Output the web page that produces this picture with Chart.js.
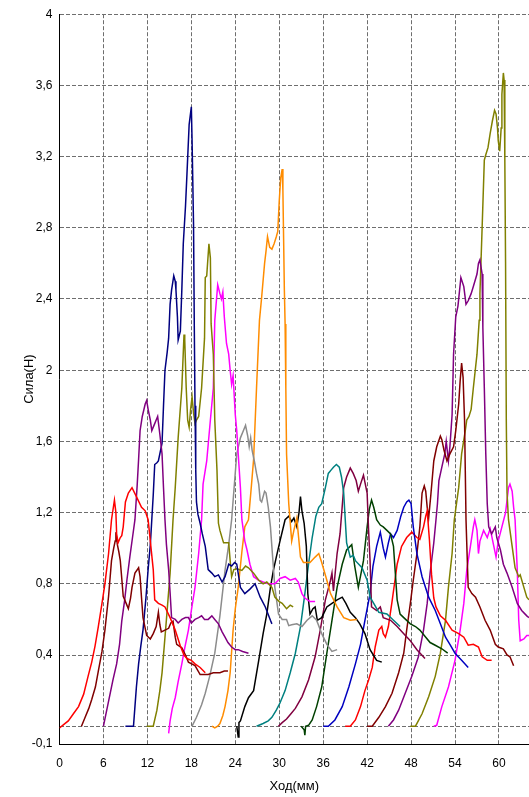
<!DOCTYPE html>
<html>
<head>
<meta charset="utf-8">
<script src="https://cdn.jsdelivr.net/npm/chart.js@4.4.1/dist/chart.umd.min.js"></script>
<style>
  html, body { margin: 0; padding: 0; background: #fff; overflow: hidden; }
  #wrap { width: 529px; height: 797px; position: relative; }
</style>
</head>
<body>
<div id="wrap"><canvas id="chart"></canvas></div>
<script>
// Force vs stroke, one trace per pass; each pass starts 3 mm after the previous one.
// Points are [stroke mm, force N].
const pass01 = [[0,-0.01],[0.6,0.01],[1.2,0.03],[1.9,0.07],[2.6,0.11],[3.3,0.18],[3.9,0.28],[4.4,0.36],[4.85,0.45],[5.3,0.56],[5.8,0.69],[6.2,0.8],[6.7,0.97],[7.1,1.16],[7.5,1.27],[7.7,1.2],[7.8,1.08],[8.0,1.03],[8.3,1.06],[8.5,1.07],[8.7,1.12],[9.0,1.26],[9.4,1.31],[9.9,1.34],[10.5,1.29],[11.2,1.23],[11.7,1.21],[12.1,1.16],[12.4,1.04],[12.8,0.88],[13.0,0.71],[13.5,0.69],[14.0,0.68],[14.4,0.67],[15.1,0.61],[15.8,0.54],[16.5,0.45],[17.0,0.4],[17.4,0.38],[18.0,0.37],[18.5,0.35],[19.2,0.33],[19.9,0.3]];
const pass02 = [[3.0,0],[3.5,0.05],[4.0,0.1],[4.4,0.15],[4.9,0.22],[5.3,0.31],[5.8,0.42],[6.2,0.54],[6.7,0.73],[7.1,0.93],[7.4,1.0],[7.6,1.04],[7.7,1.09],[7.9,1.02],[8.1,0.98],[8.3,0.93],[8.7,0.73],[8.9,0.71],[9.2,0.68],[9.4,0.66],[9.7,0.72],[9.9,0.78],[10.3,0.86],[10.8,0.89],[11.0,0.84],[11.2,0.72],[11.4,0.61],[11.9,0.51],[12.4,0.49],[12.8,0.52],[13.2,0.56],[13.5,0.64],[13.7,0.57],[13.9,0.53],[14.4,0.54],[14.9,0.55],[15.2,0.58],[15.5,0.59],[15.8,0.5],[16.0,0.46],[16.7,0.44],[17.2,0.4],[17.6,0.36],[18.5,0.34],[19.2,0.29],[19.8,0.29],[20.3,0.29],[21.0,0.3],[21.9,0.3],[22.5,0.31],[23.0,0.31]];
const pass03 = [[6.0,0],[6.4,0.08],[6.9,0.18],[7.3,0.26],[7.8,0.35],[8.2,0.46],[8.5,0.59],[8.9,0.71],[9.2,0.82],[9.6,0.95],[10.0,1.07],[10.3,1.16],[10.6,1.35],[10.8,1.5],[11.0,1.66],[11.3,1.74],[11.7,1.81],[11.9,1.83],[12.1,1.78],[12.4,1.72],[12.6,1.66],[12.8,1.68],[13.0,1.7],[13.2,1.72],[13.4,1.74],[13.7,1.64],[14.0,1.53],[14.2,1.34],[14.4,1.16],[14.6,1.02],[14.9,0.88],[15.1,0.75],[15.3,0.61],[15.8,0.6],[16.2,0.58],[16.7,0.6],[17.2,0.61],[17.6,0.61],[18.0,0.58],[18.5,0.6],[19.0,0.61],[19.4,0.62],[19.8,0.6],[20.3,0.6],[20.8,0.62],[21.2,0.6],[21.7,0.575],[22.2,0.53],[22.6,0.5],[23.0,0.47],[23.5,0.445],[24.0,0.43],[24.4,0.43],[25.0,0.42],[25.8,0.41]];
const pass04 = [[9.0,0],[9.5,0],[10.1,0],[10.3,0.11],[10.5,0.22],[10.8,0.35],[11.1,0.45],[11.4,0.54],[11.8,0.72],[12.1,0.88],[12.4,1.02],[12.6,1.16],[12.8,1.3],[13.0,1.47],[13.3,1.48],[13.5,1.49],[14.0,1.59],[14.2,1.8],[14.4,2.0],[14.7,2.1],[14.9,2.18],[15.1,2.37],[15.3,2.45],[15.6,2.53],[15.8,2.5],[15.9,2.45],[16.1,2.3],[16.2,2.17],[16.5,2.22],[16.7,2.45],[16.9,2.71],[17.2,2.92],[17.4,3.1],[17.7,3.38],[18.0,3.48],[18.1,3.29],[18.3,2.82],[18.4,2.26],[18.5,1.8],[18.6,1.44],[18.7,1.26],[18.9,1.19],[19.2,1.14],[19.5,1.08],[19.9,1.01],[20.3,0.88],[20.8,0.86],[21.2,0.84],[21.7,0.85],[22.2,0.81],[22.6,0.84],[23.1,0.91],[23.5,0.9],[23.9,0.92],[24.2,0.91],[24.7,0.78],[25.3,0.745],[26.0,0.77],[26.7,0.8],[27.4,0.725],[28.1,0.67],[28.8,0.595],[29.0,0.575]];
const pass05 = [[11.9,0],[12.4,0],[12.8,0],[13.3,0.09],[13.7,0.2],[14.0,0.3],[14.3,0.45],[14.6,0.6],[15.1,0.86],[15.5,1.16],[15.8,1.34],[16.2,1.62],[16.7,1.9],[17.0,2.2],[17.1,2.17],[17.3,1.9],[17.5,1.72],[17.7,1.68],[17.9,1.78],[18.1,1.85],[18.3,1.76],[18.5,1.7],[18.7,1.72],[19.0,1.74],[19.4,1.9],[19.8,2.18],[19.9,2.52],[20.1,2.53],[20.4,2.71],[20.6,2.63],[20.7,2.26],[21.0,2.09],[21.2,1.72],[21.5,1.44],[21.7,1.14],[21.9,1.1],[22.4,1.03],[23.1,1.03],[23.3,0.93],[23.5,0.84],[23.8,0.88],[24.2,0.885],[24.9,0.875],[25.4,0.9],[25.8,0.89],[26.5,0.86],[27.2,0.82],[27.8,0.8],[28.3,0.81],[29.0,0.78],[29.4,0.725],[30.0,0.7],[30.4,0.69],[31.0,0.66],[31.5,0.68],[31.9,0.67]];
const pass06 = [[14.9,-0.04],[15.1,0.03],[15.4,0.1],[15.8,0.16],[16.2,0.25],[16.7,0.35],[17.1,0.44],[17.6,0.54],[18.0,0.65],[18.5,0.78],[19.0,0.97],[19.4,1.16],[19.6,1.36],[20.1,1.49],[20.6,1.72],[21.0,1.9],[21.2,2.28],[21.6,2.48],[21.9,2.43],[22.1,2.4],[22.3,2.44],[22.5,2.3],[22.8,2.15],[23.1,2.09],[23.3,2.0],[23.5,1.92],[23.7,1.97],[24.0,1.75],[24.2,1.66],[24.4,1.53],[24.7,1.34],[24.9,1.16],[25.3,1.04],[25.6,0.99],[26.0,0.91],[26.5,0.84],[27.2,0.82],[27.8,0.81],[28.5,0.8],[29.4,0.8],[30.1,0.83],[30.8,0.84],[31.5,0.82],[32.2,0.83],[32.6,0.81],[33.1,0.745],[33.5,0.72],[34.2,0.7],[34.9,0.7]];
const pass07 = [[18.1,0],[18.7,0.05],[19.4,0.12],[19.9,0.185],[20.5,0.28],[21.2,0.41],[21.9,0.62],[22.6,0.875],[23.1,1.02],[23.5,1.16],[24.2,1.53],[24.7,1.62],[25.1,1.66],[25.4,1.69],[25.7,1.63],[25.9,1.57],[26.1,1.62],[26.3,1.55],[26.6,1.49],[26.9,1.42],[27.2,1.36],[27.4,1.27],[27.6,1.26],[28.0,1.32],[28.2,1.31],[28.5,1.23],[28.8,1.12],[29.1,0.95],[29.4,0.78],[29.9,0.63],[30.4,0.6],[31.0,0.6],[31.3,0.565],[31.7,0.57],[32.4,0.575],[33.1,0.56],[33.8,0.595],[34.5,0.62],[35.1,0.595],[35.8,0.52],[36.5,0.46],[37.2,0.42],[37.9,0.43]];
const pass08 = [[20.8,0],[21.2,-0.01],[21.6,0.0],[21.9,0.015],[22.3,0.06],[22.6,0.11],[23.0,0.2],[23.3,0.3],[23.7,0.54],[24.0,0.66],[24.4,0.78],[24.9,0.98],[25.3,1.12],[25.8,1.16],[26.2,1.35],[26.5,1.5],[26.9,1.9],[27.3,2.28],[27.6,2.41],[28.0,2.6],[28.2,2.67],[28.4,2.75],[28.7,2.69],[29.0,2.68],[29.3,2.71],[29.6,2.75],[29.8,2.78],[30.0,2.95],[30.2,3.08],[30.4,3.13],[30.5,3.01],[30.6,2.73],[30.7,2.45],[30.8,2.26],[30.9,1.9],[31.0,1.53],[31.3,1.25],[31.7,1.04],[32.0,1.1],[32.4,1.17],[32.6,1.08],[32.9,0.95],[33.3,0.92],[34.2,0.92],[34.9,0.95],[35.4,0.97],[35.8,0.92],[36.5,0.82],[37.0,0.745],[37.9,0.67],[38.8,0.61],[39.7,0.595],[40.6,0.6]];
const pass09 = [[24.2,0],[24.4,-0.06],[24.5,0.02],[24.7,0.03],[25.3,0.11],[25.8,0.16],[26.5,0.2],[27.2,0.37],[27.8,0.52],[28.3,0.63],[28.8,0.78],[29.2,0.875],[29.6,0.95],[30.1,1.04],[30.8,1.16],[31.3,1.18],[31.7,1.15],[32.0,1.17],[32.4,1.12],[32.7,1.2],[32.9,1.29],[33.1,1.21],[33.4,1.14],[33.7,1.01],[33.9,0.745],[34.2,0.63],[34.6,0.66],[34.9,0.67],[35.2,0.595],[35.8,0.61],[36.5,0.67],[37.2,0.69],[37.9,0.71],[38.6,0.725],[39.1,0.69],[39.7,0.64],[40.4,0.61],[41.0,0.575],[41.7,0.52],[42.4,0.43],[43.3,0.37],[44.0,0.36]];
const pass10 = [[26.9,0],[27.8,0.015],[28.5,0.03],[29.0,0.05],[29.6,0.09],[30.1,0.13],[30.8,0.2],[31.5,0.3],[32.2,0.41],[32.9,0.56],[33.5,0.745],[34.0,0.91],[34.5,1.06],[35.0,1.18],[35.4,1.23],[35.8,1.25],[36.3,1.34],[36.7,1.42],[37.1,1.44],[37.4,1.455],[37.8,1.47],[38.2,1.455],[38.5,1.4],[38.8,1.31],[39.2,1.03],[39.7,0.95],[40.1,0.96],[40.4,0.93],[41.3,0.89],[42.0,0.82],[42.4,0.725],[42.9,0.69],[43.6,0.64],[44.7,0.63],[45.6,0.595],[46.5,0.56]];
const pass11 = [[29.9,0],[30.4,0.02],[31.0,0.04],[31.6,0.07],[32.2,0.1],[33.1,0.165],[34.0,0.26],[34.9,0.39],[35.6,0.54],[36.3,0.71],[37.0,0.82],[37.2,0.86],[37.4,0.76],[37.9,0.97],[38.3,1.08],[38.8,1.34],[39.2,1.4],[39.7,1.45],[40.1,1.42],[40.5,1.38],[40.8,1.32],[41.1,1.36],[41.5,1.41],[42.0,1.31],[42.2,1.1],[42.4,0.93],[42.6,0.67],[43.3,0.65],[43.8,0.67],[44.2,0.61],[45.2,0.595],[46.1,0.56],[47.0,0.52],[47.9,0.48],[48.8,0.43],[49.9,0.38]];
const pass12 = [[33.0,0],[33.4,-0.02],[33.5,-0.05],[33.6,0.0],[34.0,0.005],[34.5,0.035],[35.1,0.11],[35.8,0.22],[36.5,0.41],[37.2,0.595],[37.9,0.78],[38.6,0.91],[39.2,0.99],[39.9,1.02],[40.3,0.9],[40.8,0.78],[41.5,0.93],[42.0,1.12],[42.3,1.22],[42.6,1.27],[42.9,1.23],[43.3,1.16],[43.8,1.13],[44.2,1.12],[44.7,1.1],[45.2,1.08],[45.6,1.01],[46.1,0.71],[46.5,0.63],[47.0,0.61],[47.9,0.575],[48.6,0.56],[49.2,0.54],[50.0,0.5],[50.6,0.47],[51.3,0.455],[52.2,0.435],[53.0,0.41]];
const pass13 = [[36.0,0],[36.7,0],[37.6,0.035],[38.6,0.11],[39.5,0.22],[40.4,0.35],[41.1,0.46],[41.7,0.595],[42.4,0.745],[42.8,0.9],[43.3,1.01],[43.8,1.09],[44.2,1.0],[44.5,0.95],[44.9,1.03],[45.2,1.08],[45.6,1.06],[46.1,1.1],[46.6,1.18],[47.0,1.23],[47.4,1.26],[47.7,1.27],[48.0,1.25],[48.3,1.12],[48.8,0.97],[49.5,0.84],[50.4,0.725],[51.3,0.65],[52.0,0.575],[52.7,0.5],[53.3,0.46],[54.0,0.41],[54.9,0.37],[55.8,0.33]];
const pass14 = [[39.0,0],[39.7,0],[40.4,0.035],[41.1,0.11],[41.7,0.2],[42.2,0.26],[42.7,0.33],[43.1,0.445],[43.6,0.54],[44.0,0.56],[44.2,0.52],[44.5,0.5],[44.9,0.56],[45.4,0.7],[45.8,0.82],[46.1,0.91],[46.7,1.01],[47.4,1.06],[48.1,1.09],[48.8,1.06],[49.2,1.05],[49.7,1.12],[50.0,1.18],[50.2,1.21],[50.5,1.05],[50.8,0.85],[51.1,0.72],[51.4,0.67],[52.0,0.62],[52.7,0.595],[53.6,0.54],[54.5,0.52],[55.2,0.5],[55.8,0.455],[56.5,0.46],[57.2,0.445],[57.7,0.39],[58.4,0.37],[59.0,0.37]];
const pass15 = [[42.0,0],[42.7,0],[43.6,0.05],[44.5,0.11],[45.4,0.185],[46.3,0.3],[47.0,0.41],[47.4,0.54],[47.9,0.69],[48.3,0.82],[48.8,0.97],[49.2,1.12],[49.5,1.31],[49.8,1.35],[50.0,1.32],[50.2,1.23],[50.4,1.17],[50.7,1.3],[51.1,1.49],[51.5,1.57],[52.0,1.63],[52.2,1.61],[52.5,1.55],[52.9,1.49],[53.3,1.53],[53.8,1.57],[54.1,1.66],[54.5,1.81],[54.7,1.94],[54.9,2.04],[55.1,1.96],[55.3,1.72],[55.4,1.44],[55.5,1.16],[55.7,0.9],[55.8,0.78],[56.3,0.745],[56.8,0.725],[57.4,0.67],[58.1,0.595],[58.8,0.54],[59.5,0.46],[59.9,0.445],[60.6,0.435],[61.1,0.4],[61.5,0.39],[62.0,0.34]];
const pass16 = [[44.9,0],[45.6,0.035],[46.3,0.09],[47.2,0.185],[48.1,0.28],[49.0,0.39],[49.7,0.54],[50.2,0.69],[50.6,0.86],[51.1,1.03],[51.4,1.16],[51.6,1.25],[51.8,1.38],[52.2,1.455],[52.6,1.53],[52.8,1.6],[53.1,1.49],[53.3,1.57],[53.6,1.75],[53.8,2.09],[54.1,2.3],[54.4,2.36],[54.8,2.52],[55.2,2.47],[55.5,2.37],[55.8,2.39],[56.2,2.43],[56.5,2.47],[57.0,2.54],[57.2,2.6],[57.4,2.62],[57.7,2.54],[57.8,2.24],[58.0,1.9],[58.2,1.53],[58.4,1.25],[58.6,1.12],[59.0,1.08],[59.5,1.12],[59.7,1.06],[60.2,0.99],[60.6,0.91],[61.1,0.86],[61.8,0.78],[62.5,0.69],[63.1,0.65],[63.8,0.62],[64.1,0.61]];
const pass17 = [[47.9,0],[48.6,0],[49.5,0.07],[50.4,0.165],[51.3,0.28],[52.0,0.41],[52.7,0.595],[53.1,0.78],[53.6,0.97],[53.9,1.16],[54.5,1.34],[54.9,1.53],[55.4,1.66],[55.6,1.72],[55.9,1.74],[56.2,1.78],[56.5,1.9],[57.0,2.09],[57.3,2.28],[57.4,2.43],[57.7,2.8],[58.0,3.18],[58.2,3.21],[58.5,3.25],[58.8,3.33],[59.1,3.4],[59.4,3.46],[59.6,3.44],[59.8,3.36],[59.9,3.29],[60.1,3.23],[60.3,3.36],[60.4,3.55],[60.6,3.67],[60.7,3.63],[60.8,3.18],[60.9,2.61],[61.0,1.72],[61.1,1.31],[61.3,1.16],[61.8,1.01],[62.2,0.89],[62.7,0.84],[62.9,0.85],[63.4,0.78],[63.8,0.725],[64.1,0.71]];
const pass18 = [[51.1,0],[51.5,0.005],[52.2,0.11],[53.1,0.22],[54.0,0.37],[54.7,0.54],[55.2,0.69],[55.6,0.875],[56.1,1.01],[56.5,1.12],[56.7,1.16],[57.0,1.1],[57.2,0.97],[57.4,1.04],[57.9,1.1],[58.4,1.06],[58.8,1.11],[59.3,1.01],[59.6,0.95],[59.9,1.04],[60.4,1.12],[60.9,1.2],[61.3,1.34],[61.5,1.36],[61.8,1.32],[62.0,1.23],[62.2,1.16],[62.5,0.875],[62.7,0.595],[62.9,0.48],[63.4,0.49],[63.8,0.51],[64.1,0.51]];

const passes = [pass01, pass02, pass03, pass04, pass05, pass06, pass07, pass08, pass09,
                pass10, pass11, pass12, pass13, pass14, pass15, pass16, pass17, pass18];
const passColors = ['#FF0000', '#800000', '#800080', '#000080', '#808000', '#FF00FF',
                    '#8C8C8C', '#FF8C00', '#000000', '#008080', '#800040', '#004000',
                    '#0000C0', '#FF0000', '#800000', '#800080', '#808000', '#FF00FF'];

const xTicks = [0, 6, 12, 18, 24, 30, 36, 42, 48, 54, 60];
const yTicks = [-0.1, 0, 0.4, 0.8, 1.2, 1.6, 2, 2.4, 2.8, 3.2, 3.6, 4];
const yTickLabels = ['-0,1', '', '0,4', '0,8', '1,2', '1,6', '2', '2,4', '2,8', '3,2', '3,6', '4'];

const FONT = "Arial, 'Liberation Sans', sans-serif";
const gridStyle = { color: '#6e6e6e', lineWidth: 1, drawTicks: false };

new Chart(document.getElementById('chart'), {
  type: 'line',
  data: {
    datasets: passes.map((pts, i) => ({
      data: pts,
      borderColor: passColors[i],
      borderWidth: 1.5,
      pointRadius: 0,
      fill: false,
      tension: 0
    }))
  },
  options: {
    responsive: true,
    maintainAspectRatio: false,
    animation: false,
    events: [],
    layout: { padding: { top: 13, right: 0, bottom: 0, left: 0 } },
    plugins: { legend: { display: false }, tooltip: { enabled: false } },
    scales: {
      x: {
        type: 'linear',
        min: 0,
        max: 64.1,
        afterBuildTicks: s => { s.ticks = xTicks.map(v => ({ value: v })); },
        afterFit: s => { s.height = 53; },
        grid: gridStyle,
        border: { display: true, color: '#000', width: 1, dash: [4, 2] },
        ticks: { padding: 12, color: '#000', font: { family: FONT, size: 12 }, maxRotation: 0,
                 callback: v => String(v) },
        title: { display: true, text: 'Ход(мм)', color: '#000',
                 font: { family: FONT, size: 13 }, padding: { top: 0, bottom: 3 } }
      },
      y: {
        type: 'linear',
        min: -0.1,
        max: 4,
        afterBuildTicks: s => { s.ticks = yTicks.map(v => ({ value: v })); },
        afterFit: s => { s.width = 59.5; },
        grid: gridStyle,
        border: { display: true, color: '#000', width: 1, dash: [4, 2] },
        ticks: { padding: 7, color: '#000', font: { family: FONT, size: 12 },
                 callback: (v, i) => yTickLabels[i] },
        title: { display: true, text: 'Сила(Н)', color: '#000',
                 font: { family: FONT, size: 13 }, padding: { top: 22, bottom: 0 } }
      }
    }
  }
});
</script>
</body>
</html>
